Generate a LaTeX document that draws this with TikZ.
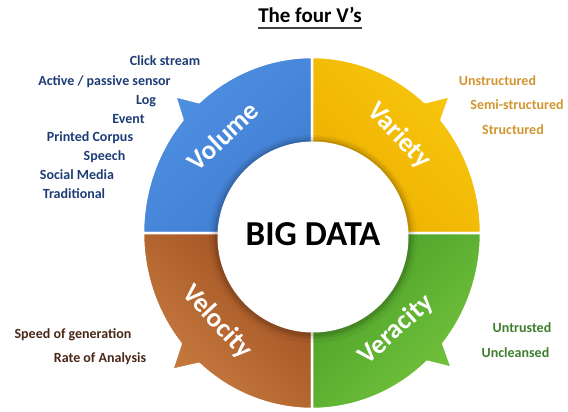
\documentclass[tikz,border=0pt]{standalone}
\usepackage{fontspec}
\setmainfont{Carlito}
\usepackage{tikz}
\usetikzlibrary{positioning}
\definecolor{volblue}{HTML}{3F7CD0}
\definecolor{volblueL}{HTML}{5091E2}
\definecolor{varyel}{HTML}{EEAE00}
\definecolor{varyelL}{HTML}{F7C80E}
\definecolor{velbrn}{HTML}{9E4E1E}
\definecolor{velbrnL}{HTML}{CA7E42}
\definecolor{vergrn}{HTML}{4A9E26}
\definecolor{vergrnL}{HTML}{74C53E}
\definecolor{voltext}{HTML}{1E3D76}
\definecolor{vartext}{HTML}{D29630}
\definecolor{veltext}{HTML}{4A2818}
\definecolor{vertext}{HTML}{3E7D2C}

\begin{document}
\begin{tikzpicture}[x=1pt, y=1pt, every node/.style={inner sep=0pt}, seg/.style={draw=white, line width=2.5pt, line join=round}, vlabel/.style={text=white, font=\bfseries\fontsize{27}{30}\selectfont}, item/.style={anchor=base, font=\bfseries\fontsize{14}{16}\selectfont}]
\useasboundingbox (0,0) rectangle (568,-412);
\node[anchor=base, font=\bfseries\fontsize{21}{24}\selectfont] (title) at (310,-23) {The four V’s};
\draw[line width=1.2pt, black!75] ([yshift=-5pt]title.base west) -- ([yshift=-5pt]title.base east);
\begin{scope}[shift={(312,-233)}]
\path[seg, top color=volblueL, bottom color=volblue, shading angle=45] (0,0) -- (90:169 and 176) arc[start angle=90, end angle=132, x radius=169, y radius=176] -- (-137,137) -- (140:169 and 176) arc[start angle=140, end angle=180, x radius=169, y radius=176] -- cycle;
\path[seg, top color=varyelL, bottom color=varyel, shading angle=-45] (0,0) -- (0:169 and 176) arc[start angle=0, end angle=40, x radius=169, y radius=176] -- (138,137) -- (48:169 and 176) arc[start angle=48, end angle=90, x radius=169, y radius=176] -- cycle;
\path[seg, top color=velbrnL, bottom color=velbrn, shading angle=135] (0,0) -- (180:169 and 176) arc[start angle=180, end angle=219, x radius=169, y radius=176] -- (-140,-137) -- (228:169 and 176) arc[start angle=228, end angle=270, x radius=169, y radius=176] -- cycle;
\path[seg, top color=vergrnL, bottom color=vergrn, shading angle=225] (0,0) -- (270:169 and 176) arc[start angle=270, end angle=313, x radius=169, y radius=176] -- (140,-135) -- (321:169 and 176) arc[start angle=321, end angle=360, x radius=169, y radius=176] -- cycle;
\fill[black, opacity=0.04] (1,-6) circle (104);
\fill[black, opacity=0.07] (1,-5) circle (101);
\fill[black, opacity=0.10] (1,-5) circle (98.5);
\fill[white] (1,-4) circle (95.5);
\node[font=\bfseries\fontsize{35}{40}\selectfont] (bigdata) at (1,-1) {BIG DATA};
\node[vlabel, rotate=43] (volume) at (-89,97) {Volume};
\node[vlabel, rotate=-46] (variety) at (87,97) {Variety};
\node[vlabel, rotate=-47] (velocity) at (-95,-89) {Velocity};
\node[vlabel, rotate=42] (veracity) at (84,-97) {Veracity};
\end{scope}
\node[item, text=voltext] (clickstream) at (165,-66) {Click stream};
\node[item, text=voltext] (sensor) at (104.5,-85) {Active / passive sensor};
\node[item, text=voltext] (log) at (146,-104) {Log};
\node[item, text=voltext] (event) at (128.5,-123) {Event};
\node[item, text=voltext] (corpus) at (90,-141) {Printed Corpus};
\node[item, text=voltext] (speech) at (104.5,-160) {Speech};
\node[item, text=voltext] (social) at (77,-179) {Social Media};
\node[item, text=voltext] (traditional) at (74,-198) {Traditional};
\node[item, text=vartext] (unstructured) at (497.5,-85) {Unstructured};
\node[item, text=vartext] (semi) at (517,-110) {Semi-structured};
\node[item, text=vartext] (structured) at (513,-135) {Structured};
\node[item, text=veltext] (speed) at (73,-338) {Speed of generation};
\node[item, text=veltext] (rate) at (100,-362.7) {Rate of Analysis};
\node[item, text=vertext] (untrusted) at (522,-332) {Untrusted};
\node[item, text=vertext] (uncleansed) at (515.5,-357) {Uncleansed};
\end{tikzpicture}
\end{document}
